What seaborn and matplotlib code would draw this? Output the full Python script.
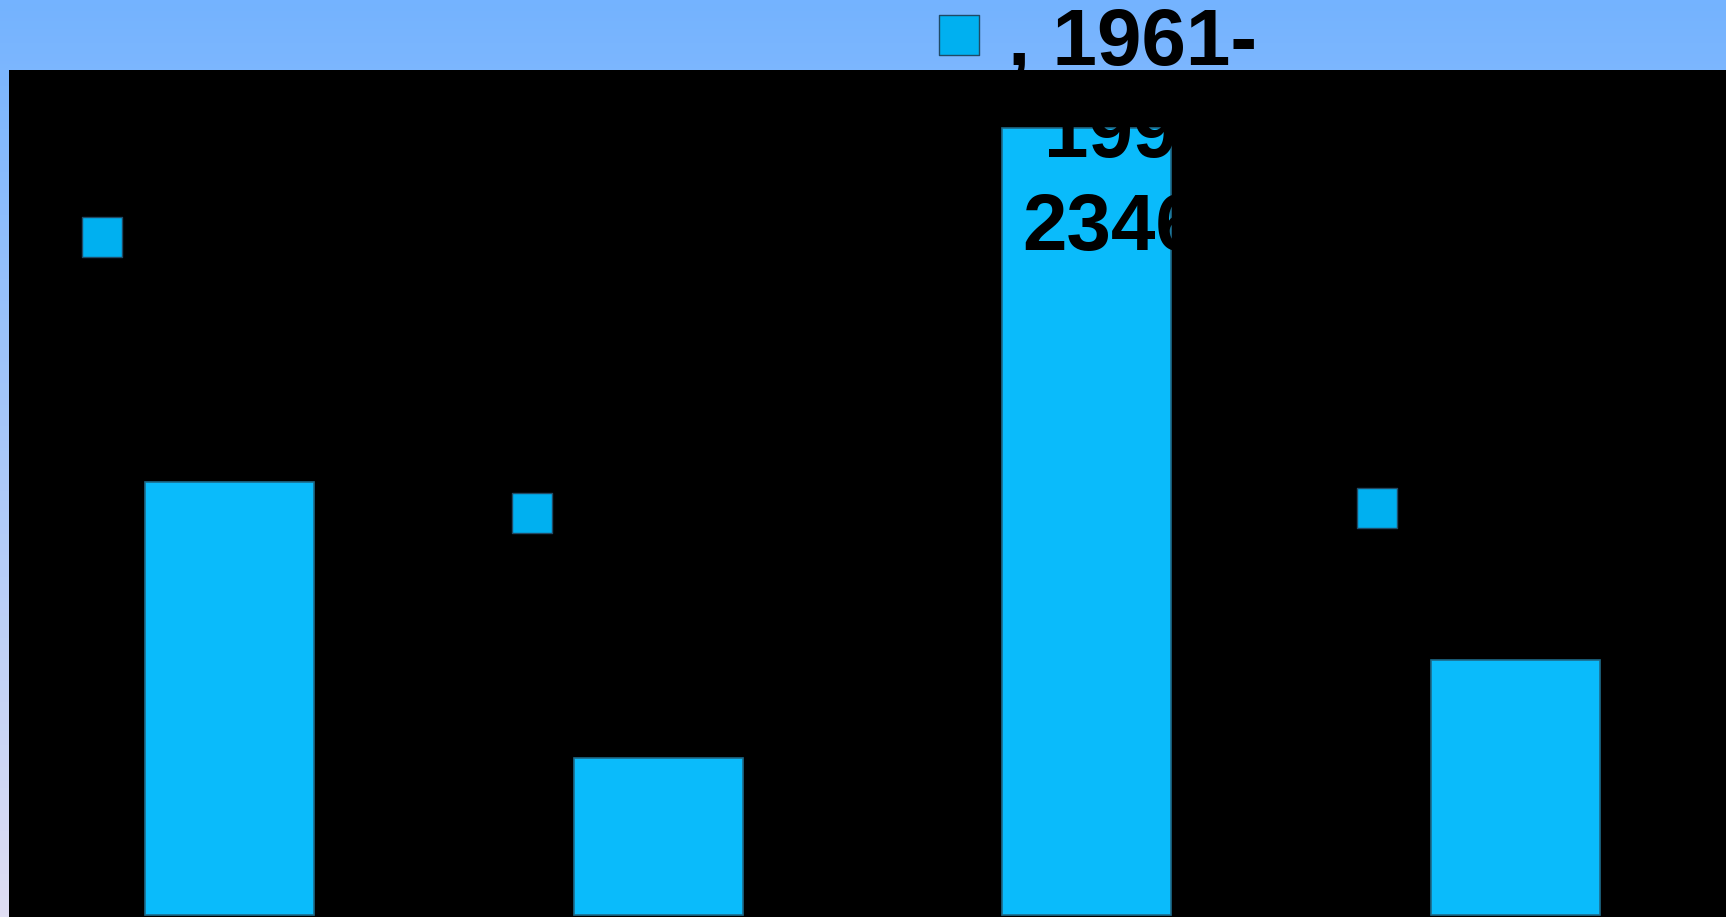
# ============================================================
#  plot.py — barres 1961-1990 sur fond noir
# ============================================================
import matplotlib
matplotlib.use("Agg")
import matplotlib.pyplot as plt
import seaborn as sns
import numpy as np
from matplotlib.colors import LinearSegmentedColormap

# données (les noms de catégories ne sont pas visibles)
categories = ["", " ", "  ", "   "]
valeurs = [12910, 4680, 23460, 7600]
serie = "1961-1990"

# position des étiquettes (clé de légende carrée) au-dessus de chaque barre
label_dx = [-0.296, -0.294, -0.297, -0.322]
label_y = [20200, 11970, 26220, 12130]

COULEUR_BARRE = "#0ABBFB"
COULEUR_CLE = "#00B0F0"

sns.set_style("white")
plt.rcParams["font.family"] = ["Liberation Sans", "DejaVu Sans"]

fig = plt.figure(figsize=(17.26, 9.17), dpi=100)

# fond en dégradé : bleu clair en haut, lavande en bas
fond = fig.add_axes([0, 0, 1, 1], zorder=0)
cmap = LinearSegmentedColormap.from_list("fond", ["#74B3FF", "#E0DEF3"])
fond.imshow(np.linspace(0, 1, 256).reshape(-1, 1), aspect="auto", cmap=cmap,
            extent=[0, 1, 0, 1])
fond.set_axis_off()

# zone du graphique : noire, collée à droite et en bas
ax = fig.add_axes([9 / 1726, 0, 1 - 9 / 1726, 847 / 917], zorder=1)
ax.set_facecolor("black")

sns.barplot(x=categories, y=valeurs, color=COULEUR_BARRE, saturation=1,
            width=0.394, edgecolor="#1E6A8A", linewidth=1.2, ax=ax)

ax.set_xlim(-0.514, 3.491)
ax.set_ylim(-60, 25190)
ax.set_xticks([])
ax.set_yticks([])
ax.set_xlabel("")
ax.set_ylabel("")
for s in ax.spines.values():
    s.set_visible(False)

# clés de légende des étiquettes de données
xs = [i + dx for i, dx in enumerate(label_dx)]
ax.scatter(xs, label_y, marker="s", s=800, color=COULEUR_CLE,
           edgecolors="#1F4A66", linewidths=1.0, zorder=5, clip_on=False)

# l'étiquette de la 3e barre (le texte noir n'apparaît que sur le bleu)
i = 2
ax.text(i + label_dx[i] + 0.4045, label_y[i] - 6390,
        f", {serie[:5]}\n{serie[5:]}\n{valeurs[i]}",
        ha="center", va="baseline", multialignment="center",
        fontsize=57.6, fontweight="bold", color="black",
        linespacing=1.306, zorder=6, clip_on=False)

plt.savefig("out.png", dpi=100, facecolor=fig.get_facecolor())
